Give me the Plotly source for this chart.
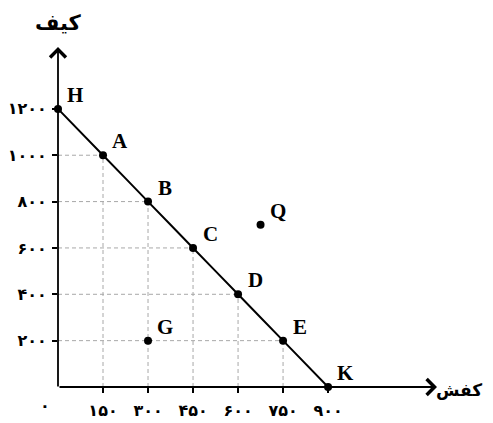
import plotly.graph_objects as go

# production possibility points (shoes = کفش, bags = کیف)
labels = ["H", "A", "B", "C", "D", "E", "K"]
shoes = [0, 150, 300, 450, 600, 750, 900]
bags = [1200, 1000, 800, 600, 400, 200, 0]

# points off the curve
extra_labels = ["Q", "G"]
extra_shoes = [675, 300]
extra_bags = [700, 200]

x_ticks = [150, 300, 450, 600, 750, 900]
x_ticktext = ["۱۵۰", "۳۰۰", "۴۵۰", "۶۰۰", "۷۵۰", "۹۰۰"]
y_ticks = [200, 400, 600, 800, 1000, 1200]
y_ticktext = ["۲۰۰", "۴۰۰", "۶۰۰", "۸۰۰", "۱۰۰۰", "۱۲۰۰"]

fa_font = "DejaVu Sans"
lbl_font = "Liberation Serif"

fig = go.Figure()

# dashed guides from each curve point to the axes
gx, gy = [], []
for sx, by in zip(shoes, bags):
    if sx == 0 or by == 0:
        continue
    gx += [sx, sx, None, 0, sx, None]
    gy += [0, by, None, by, by, None]
fig.add_trace(go.Scatter(x=gx, y=gy, mode="lines",
                         line=dict(color="#a8a8a8", width=1, dash="4px,3px"),
                         hoverinfo="skip", showlegend=False))

# the curve
fig.add_trace(go.Scatter(x=shoes, y=bags, mode="lines+markers",
                         line=dict(color="black", width=2, shape="spline", smoothing=0.6),
                         marker=dict(color="black", size=8),
                         cliponaxis=False, showlegend=False))

fig.add_trace(go.Scatter(x=extra_shoes, y=extra_bags, mode="markers",
                         marker=dict(color="black", size=8),
                         cliponaxis=False, showlegend=False))

for name, sx, by in zip(labels + extra_labels, shoes + extra_shoes, bags + extra_bags):
    fig.add_annotation(x=sx, y=by, text=name, showarrow=False,
                       xshift=17, yshift=14,
                       font=dict(family=lbl_font, size=21, color="black", weight="bold"))

# axes with arrows
fig.add_annotation(xref="paper", yref="paper", x=1, y=0, ax=-379, ay=0,
                   showarrow=True, arrowhead=4, arrowsize=1.7, arrowwidth=1.8,
                   arrowcolor="black", text="")
fig.add_annotation(xref="paper", yref="paper", x=0, y=1, ax=0, ay=341,
                   showarrow=True, arrowhead=4, arrowsize=1.7, arrowwidth=1.8,
                   arrowcolor="black", text="")

fig.add_annotation(xref="paper", yref="paper", x=0, y=1, yshift=24,
                   xanchor="center", yanchor="middle",
                   text="کیف", showarrow=False,
                   font=dict(family=fa_font, size=21, color="black", weight="bold"))
fig.add_annotation(xref="paper", yref="paper", x=1, y=0, xshift=47, yshift=-3,
                   xanchor="right", yanchor="middle",
                   text="کفش", showarrow=False,
                   font=dict(family=fa_font, size=17, color="black", weight="bold"))
fig.add_annotation(x=0, y=0, text="۰", showarrow=False, xshift=-13, yshift=-18,
                   font=dict(family=fa_font, size=16, color="black", weight="bold"))

fig.update_xaxes(range=[0, 1263], showgrid=False, zeroline=False, showline=False,
                 automargin=False,
                 tickvals=x_ticks, ticktext=x_ticktext, ticks="outside",
                 ticklen=5, tickwidth=1.5, tickcolor="black", ticklabelstandoff=4,
                 tickfont=dict(family=fa_font, size=16, color="black", weight="bold"))
fig.update_yaxes(range=[0, 1467], showgrid=False, zeroline=False, showline=False,
                 automargin=False,
                 tickvals=y_ticks, ticktext=y_ticktext, ticks="outside",
                 ticklen=5, tickwidth=1.5, tickcolor="black", ticklabelstandoff=2,
                 tickfont=dict(family=fa_font, size=16, color="black", weight="bold"))

fig.update_layout(width=477, height=415,
                  margin=dict(l=50, r=48, t=39, b=36),
                  plot_bgcolor="white", paper_bgcolor="white",
                  showlegend=False)

fig.write_html("out.html")
